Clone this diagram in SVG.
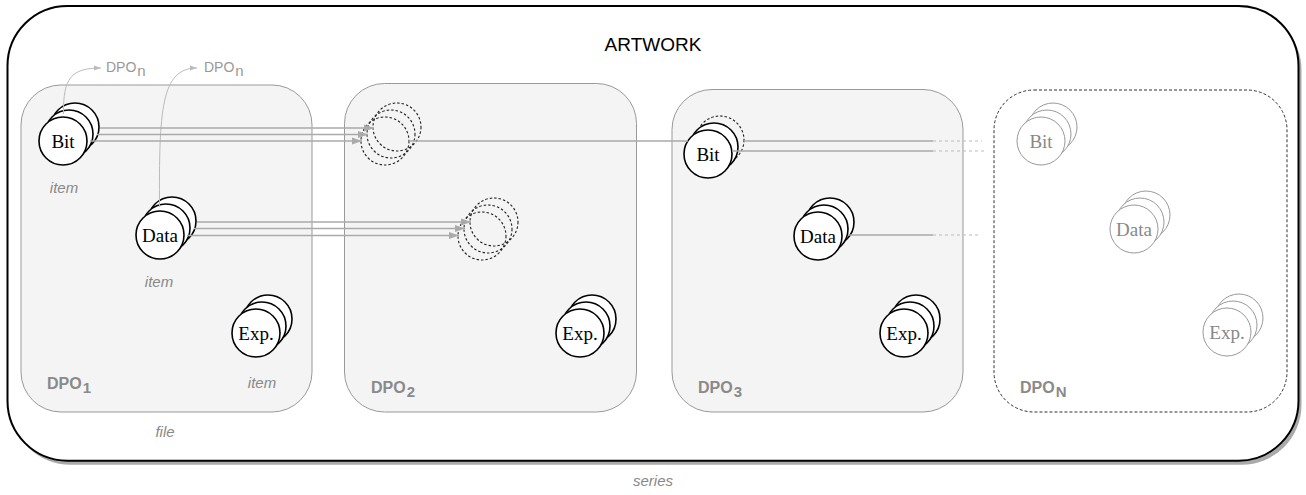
<svg xmlns="http://www.w3.org/2000/svg" width="1306" height="495" viewBox="0 0 1306 495">
<defs>
<style>
.dpo{fill:#f4f4f4;stroke:#999;stroke-width:1}
.dpoN{fill:#fff;stroke:#333;stroke-width:1;stroke-dasharray:3 2}
.n circle{fill:#fff;stroke:#000;stroke-width:1.6}
.n circle.d{fill:none;stroke:#222;stroke-width:1.1;stroke-dasharray:2.5 2}
.g circle{fill:none;stroke:#222;stroke-width:1.1;stroke-dasharray:2.5 2}
.f circle{fill:#fff;stroke:#999;stroke-width:1}
.lbl{font-family:"Liberation Serif","Times New Roman",serif;font-size:19px;text-anchor:middle;fill:#000}
.f .lbl{fill:#888}
.it{font-family:"Liberation Sans",Arial,sans-serif;font-size:15px;font-style:italic;fill:#888;text-anchor:middle}
.dl{font-family:"Liberation Sans",Arial,sans-serif;font-size:16px;font-weight:bold;fill:#8a8a8a}
.dl tspan{font-size:15px}
.dn{font-family:"Liberation Sans",Arial,sans-serif;font-size:14px;fill:#999}
.dn tspan{font-size:15px}
.ln{fill:none;stroke:#aaa;stroke-width:1.5}
.lnd{fill:none;stroke:#bbb;stroke-width:1;stroke-dasharray:3 3}
.cv{fill:none;stroke:#bbb;stroke-width:1}
</style>
<marker id="ah" markerUnits="userSpaceOnUse" markerWidth="10" markerHeight="8" refX="10" refY="4" orient="auto">
<path d="M0,0.5 L10,4 L0,7.5 z" fill="#aaa"/>
</marker>
<marker id="ahs" markerUnits="userSpaceOnUse" markerWidth="7" markerHeight="6" refX="7" refY="3" orient="auto">
<path d="M0,0.5 L7,3 L0,5.5 z" fill="#bbb"/>
</marker>
</defs>
<rect width="1306" height="495" fill="#fff"/>

<g id="artwork">
<rect x="10.5" y="10" width="1291" height="454.7" rx="60" fill="#aaa"/>
<rect x="7.5" y="6" width="1291" height="454.7" rx="60" fill="#fff" stroke="#000" stroke-width="2"/>
<text x="653" y="50.5" font-family="'Liberation Sans',Arial,sans-serif" font-size="19" text-anchor="middle" fill="#000">ARTWORK</text>
<text class="it" x="653" y="486">series</text>
</g>

<g id="dpo1">
<rect class="dpo" x="21" y="85" width="291" height="327" rx="40"/>
<text class="dl" x="47" y="389">DPO<tspan dx="1" dy="4">1</tspan></text>
<text class="it" x="165" y="437">file</text>
</g>
<g id="dpo2">
<rect class="dpo" x="344.5" y="83.5" width="292" height="328.5" rx="40"/>
<text class="dl" x="371" y="393">DPO<tspan dx="1" dy="4">2</tspan></text>
</g>
<g id="dpo3">
<rect class="dpo" x="672" y="89.5" width="291" height="322.5" rx="40"/>
<text class="dl" x="698" y="393">DPO<tspan dx="1" dy="4">3</tspan></text>
</g>
<g id="dpoN">
<rect class="dpoN" x="994" y="90" width="293" height="322" rx="40"/>
<text class="dl" x="1020" y="392.5">DPO<tspan dx="1" dy="4">N</tspan></text>
</g>

<g id="dpo1-bit" class="n">
<circle cx="75" cy="127" r="24"/><circle cx="69" cy="134" r="24"/><circle cx="63" cy="141" r="24"/>
<text class="lbl" x="63" y="147.5">Bit</text>
<text class="it" x="64" y="193">item</text>
</g>
<g id="dpo1-data" class="n">
<circle cx="172" cy="221" r="24"/><circle cx="166" cy="228" r="24"/><circle cx="160" cy="235" r="24"/>
<text class="lbl" x="160" y="241.5">Data</text>
<text class="it" x="159" y="287">item</text>
</g>
<g id="dpo1-exp" class="n">
<circle cx="268" cy="319" r="24"/><circle cx="262" cy="326" r="24"/><circle cx="256" cy="333" r="24"/>
<text class="lbl" x="256" y="339.5">Exp.</text>
<text class="it" x="262" y="388">item</text>
</g>

<g id="dpo2-bit" class="g">
<circle cx="397" cy="127" r="24"/><circle cx="391" cy="134" r="24"/><circle cx="385" cy="141" r="24"/>
</g>
<g id="dpo2-data" class="g">
<circle cx="494" cy="222" r="24"/><circle cx="488" cy="229" r="24"/><circle cx="482" cy="236" r="24"/>
</g>
<g id="dpo2-exp" class="n">
<circle cx="592" cy="319" r="24"/><circle cx="586" cy="326" r="24"/><circle cx="580" cy="333" r="24"/>
<text class="lbl" x="580" y="339.5">Exp.</text>
</g>

<g id="dpo3-bit" class="n">
<circle class="d" cx="720" cy="140" r="24"/><circle cx="714" cy="147" r="24"/><circle cx="708" cy="154" r="24"/>
<text class="lbl" x="708" y="160.5">Bit</text>
</g>
<g id="dpo3-data" class="n">
<circle cx="830" cy="222" r="24"/><circle cx="824" cy="229" r="24"/><circle cx="818" cy="236" r="24"/>
<text class="lbl" x="818" y="242.5">Data</text>
</g>
<g id="dpo3-exp" class="n">
<circle cx="916" cy="319" r="24"/><circle cx="910" cy="326" r="24"/><circle cx="904" cy="333" r="24"/>
<text class="lbl" x="904" y="339.5">Exp.</text>
</g>

<g id="dpoN-bit" class="f">
<circle cx="1053" cy="127" r="24"/><circle cx="1047" cy="134" r="24"/><circle cx="1041" cy="141" r="24"/>
<text class="lbl" x="1041" y="147.5">Bit</text>
</g>
<g id="dpoN-data" class="f">
<circle cx="1146" cy="215" r="24"/><circle cx="1140" cy="222" r="24"/><circle cx="1134" cy="229" r="24"/>
<text class="lbl" x="1134" y="235.5">Data</text>
</g>
<g id="dpoN-exp" class="f">
<circle cx="1239" cy="318" r="24"/><circle cx="1233" cy="325" r="24"/><circle cx="1227" cy="332" r="24"/>
<text class="lbl" x="1227" y="338.5">Exp.</text>
</g>

<g id="connectors">
<path class="cv" d="M63.5,114 C63,78 71,68 101,68" marker-end="url(#ahs)"/>
<text class="dn" x="106" y="72">DPO<tspan dx="1" dy="4">n</tspan></text>
<path class="cv" d="M159.5,207 C159,110 161,68 197,68" marker-end="url(#ahs)"/>
<text class="dn" x="204" y="72">DPO<tspan dx="1" dy="4">n</tspan></text>

<path class="ln" d="M100,128 H374" marker-end="url(#ah)"/>
<path class="ln" d="M97,134.5 H368" marker-end="url(#ah)"/>
<path class="ln" d="M90,141 H362" marker-end="url(#ah)"/>

<path class="ln" d="M197,222 H471" marker-end="url(#ah)"/>
<path class="ln" d="M194,228.5 H465" marker-end="url(#ah)"/>
<path class="ln" d="M187,235.5 H459" marker-end="url(#ah)"/>

<path class="ln" d="M409,141 H688"/>

<path class="ln" d="M744,141 H933"/>
<path class="lnd" d="M933,141 H982"/>
<path class="ln" d="M732,151 H933"/>
<path class="lnd" d="M933,151 H985"/>
<path class="ln" d="M848,235 H933"/>
<path class="lnd" d="M933,235 H980"/>
</g>
</svg>
